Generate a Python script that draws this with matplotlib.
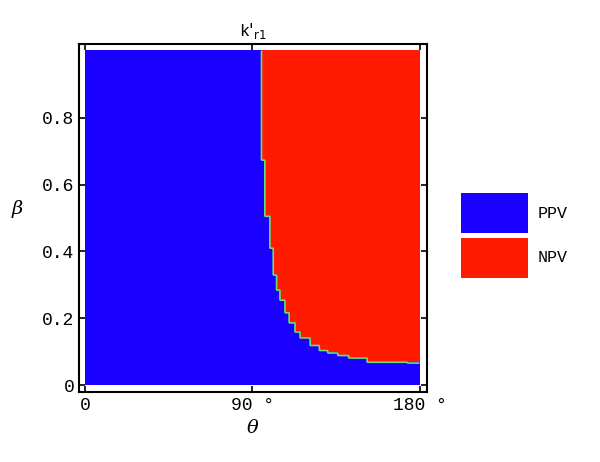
import numpy as np
import matplotlib
matplotlib.use("Agg")
import matplotlib.pyplot as plt
from matplotlib.colors import ListedColormap
from matplotlib.patches import Rectangle

# boundary: for beta >= beta_level[i] (up to next level), NPV where theta > theta_crit[i]
beta_levels = [0.0, 0.06, 0.066, 0.069, 0.081, 0.09, 0.096, 0.105, 0.12, 0.141, 0.159,
               0.186, 0.216, 0.254, 0.284, 0.33, 0.41, 0.504, 0.674]
theta_crit = [181, 180, 173.5, 152, 142, 136, 130.5, 126, 121, 115.5, 113,
              110, 107.5, 104.8, 103, 101.2, 99.4, 96.7, 95.0]
categories = ["PPV", "NPV"]
colors = ["#1a00ff", "#ff1a00"]
xticks = [0, 90, 180]
xticklabels = ["0", "90 °", "180 °"]
yticks = [0, 0.2, 0.4, 0.6, 0.8]
yticklabels = ["0", "0.2", "0.4", "0.6", "0.8"]

plt.rcParams['font.family'] = ['Liberation Mono', 'DejaVu Sans']
fig = plt.figure(figsize=(6, 4.62), dpi=100)
ax = fig.add_axes([79/600, 1-392/462, 348/600, 348/462])

th = np.linspace(0, 180, 400)
be = np.linspace(0, 1, 400)
T, B = np.meshgrid(th, be)
idx = np.searchsorted(beta_levels, be, side='right') - 1
crit = np.array(theta_crit)[idx][:, None]
Z = (T > crit).astype(float)
ax.imshow(Z, origin='lower', extent=[0, 180, 0, 1], aspect='auto',
          cmap=ListedColormap(colors), interpolation='nearest')
ax.contour(T, B, Z, levels=[0.5], colors=['#66e070'], linewidths=1.2)

ax.set_xlim(-3.2, 184)
ax.set_ylim(-0.02, 1.02)
ax.set_xticks(xticks)
ax.set_xticklabels(xticklabels, fontsize=13)
ax.set_yticks(yticks)
ax.set_yticklabels(yticklabels, fontsize=13)
ax.tick_params(direction='in', length=4, width=1.2, top=True, right=True, labeltop=False, labelright=False)
for s in ax.spines.values():
    s.set_linewidth(1.5)
ax.set_xlabel("θ", fontsize=14, family='DejaVu Serif', style='italic')
ax.set_ylabel("β", fontsize=14, family='DejaVu Serif', style='italic', rotation=0, labelpad=18)
ax.set_title("k$'_{\\rm r1}$", fontsize=12, pad=6)

for i, (lab, c) in enumerate(zip(categories, colors)):
    y0 = 1 - (233 + 45*i)/462
    fig.patches.append(Rectangle((461/600, y0), 67/600, 40/462, transform=fig.transFigure,
                                 facecolor=c, edgecolor='none'))
    fig.text(538/600, y0 + 20/462, lab, fontsize=12, va='center', ha='left')

fig.savefig("out.png", dpi=100)
